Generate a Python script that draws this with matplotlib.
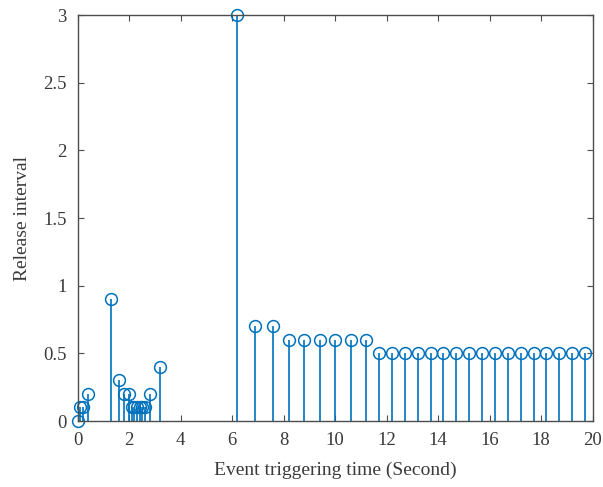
import numpy as np
import matplotlib
matplotlib.use("Agg")
import matplotlib.pyplot as plt

# event times (s) and release interval at each event
event_time = [0.0, 0.1, 0.2, 0.4, 1.3, 1.6, 1.8, 2.0,
              2.1, 2.2, 2.3, 2.4, 2.5, 2.6, 2.8, 3.2,
              6.2, 6.9, 7.6, 8.2, 8.8, 9.4, 10.0, 10.6, 11.2,
              11.7, 12.2, 12.7, 13.2, 13.7, 14.2, 14.7, 15.2, 15.7,
              16.2, 16.7, 17.2, 17.7, 18.2, 18.7, 19.2, 19.7]
release_interval = [0.0, 0.1, 0.1, 0.2, 0.9, 0.3, 0.2, 0.2,
                    0.1, 0.1, 0.1, 0.1, 0.1, 0.1, 0.2, 0.4,
                    3.0, 0.7, 0.7, 0.6, 0.6, 0.6, 0.6, 0.6, 0.6,
                    0.5, 0.5, 0.5, 0.5, 0.5, 0.5, 0.5, 0.5, 0.5,
                    0.5, 0.5, 0.5, 0.5, 0.5, 0.5, 0.5, 0.5]

plt.rcParams['font.family'] = ['Liberation Serif', 'DejaVu Serif']
col = '#0072BD'
axcol = '#4d4d4d'
txtcol = '#3a3a3a'

fig = plt.figure(figsize=(6.03, 4.87), dpi=100)
ax = fig.add_axes([0.129, 0.1355, 0.854, 0.8335])

ml, sl, bl = ax.stem(event_time, release_interval, basefmt=' ')
plt.setp(sl, color=col, linewidth=1.2)
plt.setp(ml, markerfacecolor='none', markeredgecolor=col, markersize=8.5,
         markeredgewidth=1.1, clip_on=False)

ax.set_xlim(0, 20)
ax.set_ylim(0, 3)
ax.set_xticks(np.arange(0, 21, 2))
ax.set_yticks([0, 0.5, 1, 1.5, 2, 2.5, 3])
ax.set_yticklabels(['0', '0.5', '1', '1.5', '2', '2.5', '3'])

for s in ax.spines.values():
    s.set_color(axcol)
    s.set_linewidth(1.0)
ax.tick_params(direction='in', top=True, right=True, length=4, width=0.8,
               colors=axcol, labelsize=13.5, labelcolor=txtcol)
ax.tick_params(axis='y', pad=8)
ax.tick_params(axis='x', pad=8)

ax.set_xlabel('Event triggering time (Second)', fontsize=14, color=txtcol, labelpad=9)
ax.set_ylabel('Release interval', fontsize=14, color=txtcol, labelpad=9)

fig.savefig('out.png', dpi=100)
